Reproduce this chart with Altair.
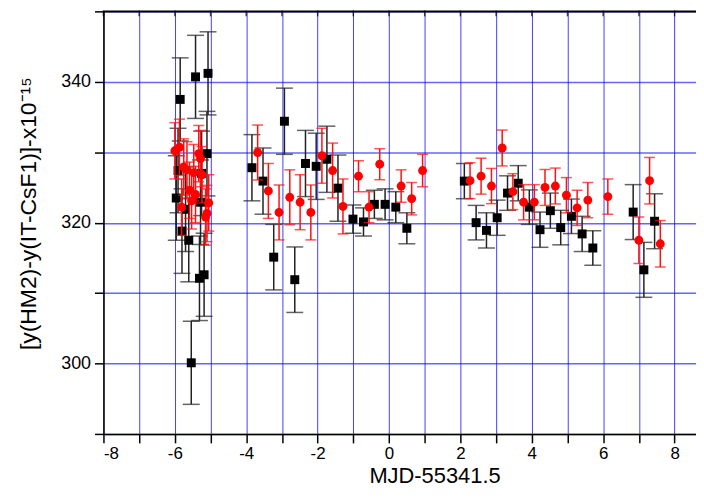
import altair as alt
import pandas as pd

# HM2 data (black squares)
hm_x = [-5.96, -5.91, -5.85, -5.80, -5.70, -5.61, -5.54, -5.42, -5.31, -5.28, -5.25, -5.18, -5.10, -5.07,
        -3.84, -3.53, -3.23, -2.93, -2.64, -2.34, -2.04, -1.74, -1.43, -1.01, -0.715, -0.41, -0.11, 0.19, 0.50,
        2.11, 2.44, 2.73, 3.03, 3.32, 3.62, 3.93, 4.23, 4.52, 4.81, 5.11, 5.41, 5.71, 6.84, 7.14, 7.44]
hm_y = [323.5, 327.4, 337.5, 318.8, 321.9, 317.5, 300.1, 340.7, 312.1, 322.9, 327.0, 312.6, 329.8, 341.2,
        327.8, 325.9, 315.1, 334.4, 311.9, 328.4, 328.0, 329.0, 324.9, 320.5, 320.1, 322.6, 322.6, 322.2, 319.2,
        325.9, 320.0, 318.9, 320.7, 324.2, 325.6, 322.2, 319.0, 321.7, 319.3, 320.9, 318.4, 316.4, 321.5, 313.3, 320.2]
hm_err = [6.0, 6.0, 5.9, 6.0, 6.0, 5.9, 5.9, 5.9, 6.0, 6.0, 6.0, 5.9, 6.0, 5.9,
          4.7, 4.7, 4.65, 4.7, 4.65, 4.7, 4.7, 4.7, 4.7, 2.0, 2.0, 2.0, 2.2, 2.2, 2.2,
          2.5, 2.45, 2.5, 2.5, 2.45, 2.5, 2.45, 2.5, 2.5, 2.45, 2.45, 2.5, 2.45, 3.9, 3.9, 3.9]

# second series (red circles)
rd_x = [-6.00, -5.87, -5.81, -5.75, -5.66, -5.59, -5.53, -5.47, -5.42, -5.33, -5.28, -5.24, -5.14, -5.10, -5.05,
        -3.68, -3.38, -3.08, -2.78, -2.49, -2.19, -1.88, -1.58, -1.29, -0.855, -0.56, -0.26, 0.34, 0.635, 0.94,
        2.27, 2.58, 2.87, 3.17, 3.47, 3.77, 4.07, 4.37, 4.66, 4.97, 5.27, 5.57, 6.13, 7.00, 7.30, 7.60]
rd_y = [330.2, 330.7, 322.2, 327.9, 327.5, 324.6, 323.1, 327.1, 324.0, 329.8, 329.1, 326.8, 320.8, 321.3, 322.8,
        329.96, 324.5, 321.45, 323.6, 322.9, 321.45, 329.5, 327.4, 322.3, 326.6, 322.2, 328.3, 325.2, 323.4, 327.4,
        325.96, 326.6, 325.2, 330.6, 324.4, 322.9, 322.9, 325.0, 325.2, 323.9, 322.1, 323.2, 323.7, 317.5, 325.96, 317.0]
rd_err = [4.0] * 15 + [3.9] * 9 + [2.2, 2.2, 2.2, 2.3, 2.3, 2.3] + \
         [2.55, 2.55, 2.5, 2.55, 2.55, 2.5, 2.5, 2.55, 2.55, 2.5, 2.5, 2.5, 2.5, 3.3, 3.3, 3.3]

x_ticks = list(range(-8, 9))
y_ticks = [290, 300, 310, 320, 330, 340, 350]

W, H = 596, 425

df_b = pd.DataFrame({"x": hm_x, "y": hm_y, "e": hm_err})
df_b["lo"] = df_b["y"] - df_b["e"]
df_b["hi"] = df_b["y"] + df_b["e"]
df_r = pd.DataFrame({"x": rd_x, "y": rd_y, "e": rd_err})
df_r["lo"] = df_r["y"] - df_r["e"]
df_r["hi"] = df_r["y"] + df_r["e"]

xs = alt.Scale(domain=[-8, 8.6], nice=False, zero=False)
ys = alt.Scale(domain=[290, 350], nice=False, zero=False)

FONT = "Liberation Sans, Arial, sans-serif"

x_axis = alt.Axis(values=x_ticks, labelExpr="datum.value % 2 == 0 ? toString(datum.value) : ''",
                  title="MJD-55341.5", grid=True, gridColor="#0000ff", gridOpacity=0.75, gridWidth=1,
                  tickSize=9, tickColor="black", tickWidth=1.5, domainColor="black", domainWidth=1.5,
                  labelFont=FONT, labelFontSize=17, labelColor="black", labelPadding=3,
                  titleFont=FONT, titleFontSize=22, titleFontWeight="normal",
                  titleColor="black", titleX=333, titlePadding=4)
y_axis = alt.Axis(values=y_ticks, labelExpr="datum.value % 20 == 0 && datum.value >= 300 && datum.value <= 340 ? toString(datum.value) : ''",
                  title="[y(HM2)-y(IT-CsF1)]-x10⁻¹⁵", grid=True, gridColor="#0000ff", gridOpacity=0.6, gridWidth=1.5,
                  tickSize=9, tickColor="black", tickWidth=1.5, domainColor="black", domainWidth=1.5,
                  labelFont=FONT, labelFontSize=18, labelColor="black", labelPadding=4,
                  titleFont=FONT, titleFontSize=23, titleFontWeight="normal",
                  titleColor="black", titleX=-63, titleY=203)


def series(df, bar_color, cap, shape_mark):
    base = alt.Chart(df)
    X = alt.X("x:Q", scale=xs, axis=x_axis)
    rule = base.mark_rule(color=bar_color, strokeWidth=1.5).encode(
        x=X, y=alt.Y("lo:Q", scale=ys, axis=y_axis), y2="hi:Q")
    cap_lo = base.mark_tick(orient="horizontal", size=cap, thickness=1.5, color=bar_color).encode(
        x=X, y=alt.Y("lo:Q", scale=ys, axis=y_axis))
    cap_hi = base.mark_tick(orient="horizontal", size=cap, thickness=1.5, color=bar_color).encode(
        x=X, y=alt.Y("hi:Q", scale=ys, axis=y_axis))
    pts = shape_mark(base).encode(x=X, y=alt.Y("y:Q", scale=ys, axis=y_axis))
    return [rule, cap_lo, cap_hi, pts]


black = series(df_b, "#222222", 17,
               lambda b: b.mark_square(size=81, color="black", opacity=1))
red = series(df_r, "#ff1010", 11,
             lambda b: b.mark_circle(size=80, color="#ff0000", opacity=1))

top_line = alt.Chart(pd.DataFrame({"a": [0]})).mark_rule(color="black", strokeWidth=2).encode(
    x=alt.value(0), x2=alt.value(W), y=alt.value(0))
top_ticks = alt.Chart(pd.DataFrame({"t": x_ticks})).mark_tick(
    orient="vertical", size=6, thickness=1.5, color="black").encode(
    x=alt.X("t:Q", scale=xs, axis=x_axis), y=alt.value(2))

chart = alt.layer(*black, *red, top_line, top_ticks).properties(
    width=W, height=H,
    autosize=alt.AutoSizeParams(type="none"),
    padding={"left": 96, "top": 2, "right": 0, "bottom": 55},
).configure_view(stroke=None)

chart.save("out.html", embed_options={"renderer": "svg", "actions": False})
